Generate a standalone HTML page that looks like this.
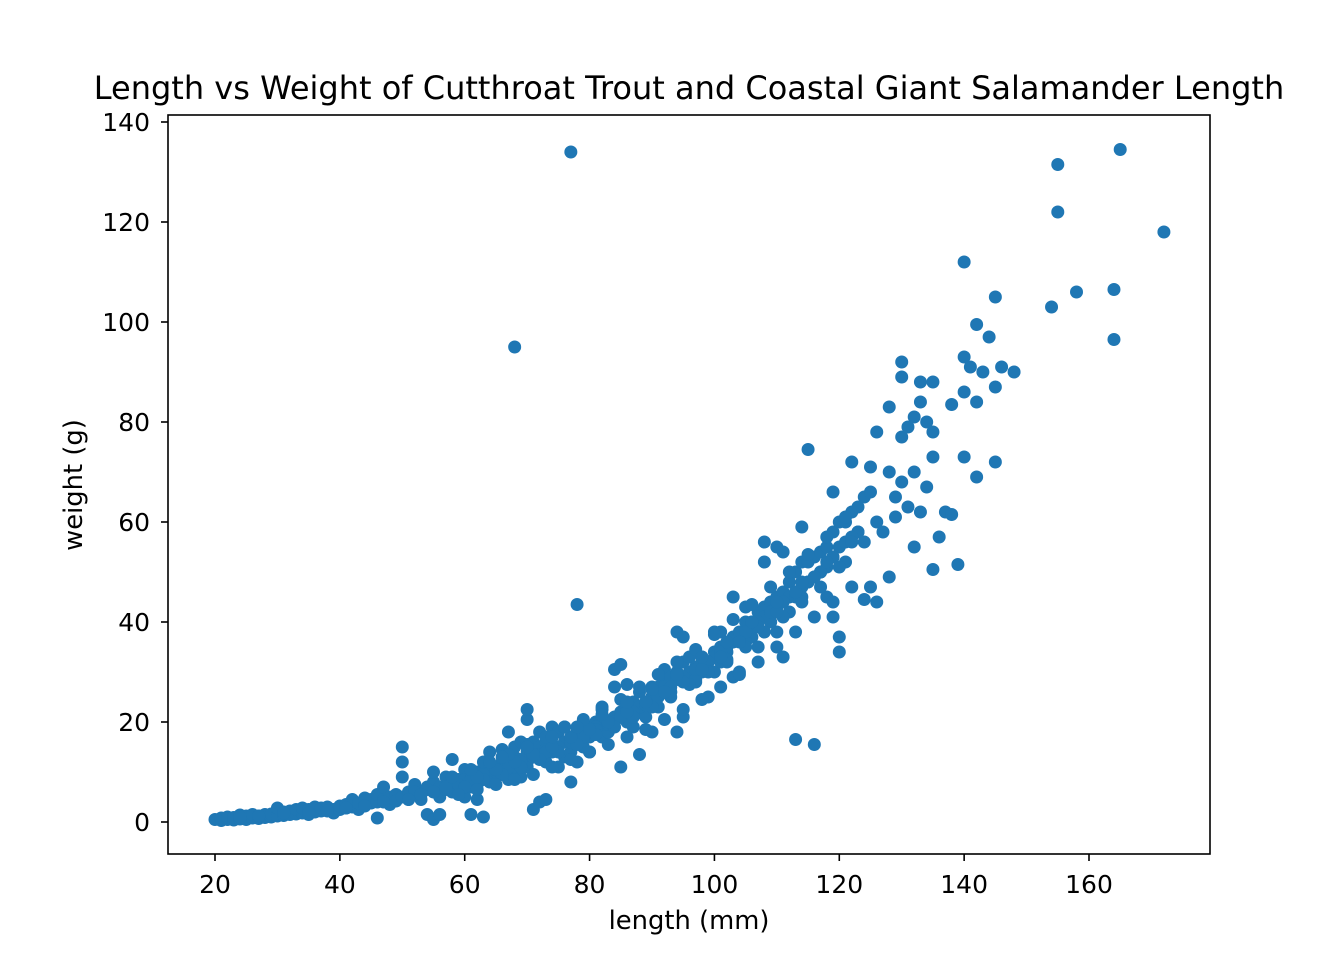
<!DOCTYPE html>
<html><head><meta charset="utf-8"><style>
html,body{margin:0;padding:0;background:#fff;}
svg text{font-family:"DejaVu Sans","Liberation Sans",sans-serif;fill:#000;}
</style></head><body>
<svg id="chart" width="1344" height="960" viewBox="0 0 1344 960" xmlns="http://www.w3.org/2000/svg">
<rect width="1344" height="960" fill="#fff"/>
<text x="689" y="99" style="font-size:32px" text-anchor="middle">Length vs Weight of Cutthroat Trout and Coastal Giant Salamander Length</text>
<g id="points"></g>
<rect x="168" y="115" width="1042" height="739" fill="none" stroke="#000" stroke-width="1.6"/>
<g id="xaxis"></g>
<g id="yaxis"></g>
<text x="689" y="929" style="font-size:25.8px" text-anchor="middle">length (mm)</text>
<text x="0" y="0" style="font-size:25.8px" text-anchor="middle" transform="translate(82,485) rotate(-90)">weight (g)</text>
</svg>
<script>
const xTicks=[20,40,60,80,100,120,140,160];
const yTicks=[0,20,40,60,80,100,120,140];
const lengths=[20,21,21,22,22,23,23,24,24,25,25,26,26,27,27,28,28,29,29,30,30,31,31,32,32,33,33,34,34,35,35,36,36,37,37,38,38,39,39,40,40,41,41,42,42,43,43,44,44,45,45,46,46,46,47,47,48,48,49,49,50,50,50,50,51,51,52,52,53,53,54,54,55,55,55,56,56,56,57,57,58,58,58,59,59,60,60,60,61,61,61,62,62,62,63,63,63,64,64,64,65,65,66,66,66,67,67,67,68,68,68,69,69,69,70,70,70,70,71,71,71,72,72,72,73,73,73,74,74,74,75,75,75,76,76,76,77,77,77,78,78,78,79,79,79,80,80,80,81,81,82,82,82,83,83,84,84,84,85,85,85,86,86,86,87,87,88,88,88,89,89,90,90,90,91,91,92,92,93,93,94,94,94,95,95,95,96,96,97,97,98,98,99,99,100,100,100,101,101,102,102,103,103,103,104,104,105,105,106,106,107,107,108,108,108,109,109,110,110,110,111,111,111,112,112,113,113,114,114,114,115,115,115,116,116,117,117,118,118,119,119,119,120,120,120,120,121,121,122,122,123,123,124,124,125,125,125,126,126,126,127,128,128,128,129,129,130,130,130,130,131,131,132,132,132,133,133,133,134,134,135,135,135,135,136,137,138,138,139,140,140,140,140,141,142,142,142,143,144,145,145,145,146,148,154,155,155,158,164,164,165,172,77,68,78,
52,54,56,58,60,62,64,66,68,70,72,74,76,78,80,82,84,86,88,90,92,94,96,98,100,102,104,106,108,110,112,114,116,118,57,61,65,69,73,77,81,85,89,93,97,101,105,109,113,117,
51,53,55,57,59,61,63,65,67,69,71,73,75,77,79,81,83,85,87,89,91,93,95,97,99,101,103,105,107,109,111,113,115,117,119,121,123,
60,63,66,69,72,75,78,81,84,87,90,93,96,99,102,105,108,111,114,117,120,124,
62,65,68,71,74,77,80,83,86,89,92,95,98,101,104,107,110,113,116,119,122,
35,38,41,44,47,31,27,24,
58,61,64,67,70,73,76,79,82,85,88,91,94,97,100,103,106,109,112,115,118,121,
59,62,65,68,71,74,77,80,83,86,89,92,95,98,101,104,107,110,113,116,119,122,
66,70,74,78,82,86,90,94,98,102,106,110,114,118,122];
const weights=[0.5,0.3,0.8,0.5,1,0.4,0.9,0.6,1.4,0.5,1.2,0.8,1.5,0.7,1.2,0.9,1.5,1,1.6,1.2,2.8,1.3,2,1.5,2.2,1.6,2.5,1.8,2.8,1.5,2.5,2,3,2.2,2.8,2.4,3,2.5,1.8,2.5,3.2,2.8,3.5,3,4.5,2.5,3.8,3.5,4.8,3.8,4.5,0.8,4,5.5,4.5,7,5,3.5,5.5,4.2,5,15,12,9,6,4.5,6.5,7.5,4.5,6,7,1.5,0.5,8,10,7,1.5,5,7.5,9,8,12.5,6,8.5,6.5,8,10.5,5,9,1.5,7,10,4.5,7.5,10,1,12,11,8,14,11,9,12,9.5,14.5,12,18,8.5,13,10,15,12,9,16,14,20.5,22.5,11,13,2.5,16,15,4,18,16,4.5,12,17,14,19,15,18,11,16,13,19,17,8,14,18,16,12,18,15,20,19,17,14,20,18,21,17,23,20,18,21,27,30.5,22,11,31.5,23,20,27.5,24,19,22,13.5,26,24,21,25,18,27,27,23,28,30.5,29,26,30,38,18,32,21,37,30,33,31,28,33,30,32,25,34,38,30,35,38,34,32,37,45,29,38,30,40,43,40,37,42,35,43,56,52,44,40,45,55,38,46,33,54,48,42,50,16.5,52,59,45,52,74.5,48,53,15.5,54,50,55,45,58,66,41,60,37,34,55,60,52,62,72,63,58,65,44.5,66,47,71,60,44,78,58,70,83,49,65,61,68,92,89,77,63,79,70,55,81,62,84,88,80,67,78,88,73,50.5,57,62,83.5,61.5,51.5,93,86,73,112,91,99.5,69,84,90,97,105,72,87,91,90,103,131.5,122,106,106.5,96.5,134.5,118,134,95,43.5,
6,6.5,7,8,8.5,9,10,11,12,12,13.5,15,16,17,18,19.5,20,22,23,25,27,28.5,30,32,33,35,37,39,41,43,45,47,49,51,6.5,8.5,10.5,12.5,14.5,16.5,19,21,23.5,26,28.5,32,36,40,45,50,
4.5,5.5,6,7,7.5,8.5,9.5,10,11,12,13,14,15,16,17,18.5,19.5,21,22,23.5,25,27,29,30.5,32,34,36,38,40,42,44,46,48,50,53,56,58,
7,8.5,9.5,11,12.5,14,15.5,17.5,19,21,23,25,27.5,30,32.5,35,38,41,44,47,51,56,
9,10.5,12,13.5,15,17,18.5,20,22,24,26,28,30.5,33,36,39,42,46,49,53,57,
1.8,2.2,2.8,3.2,4,1.8,1.2,1,
9,10.5,12,13.5,15.5,17,19,20.5,22.5,24.5,27,29.5,32,34.5,37.5,40.5,43.5,47,50,53.5,57,61,
5.5,6.5,7.5,8.5,9.5,11,12.5,14,15.5,17,18.5,20.5,22.5,24.5,27,29.5,32,35,38,41,44,47,
13,15,17,19,21.5,24,26.5,29.5,33,36,40,44,48,52,56];
const X0=20,X1=160,PX0=215,PX1=1089,Y0=0,Y1=140,PY0=822,PY1=122;
const sx=v=>PX0+(v-X0)*(PX1-PX0)/(X1-X0);
const sy=v=>PY0+(v-Y0)*(PY1-PY0)/(Y1-Y0);
const NS='http://www.w3.org/2000/svg';
const pg=document.getElementById('points');
for(let i=0;i<lengths.length;i++){
  const c=document.createElementNS(NS,'circle');
  c.setAttribute('cx',sx(lengths[i]));c.setAttribute('cy',sy(weights[i]));
  c.setAttribute('r',6.5);c.setAttribute('fill','#1f77b4');
  
  
  pg.appendChild(c);
}
const xa=document.getElementById('xaxis');
xTicks.forEach(t=>{
  const x=sx(t);
  const l=document.createElementNS(NS,'line');
  l.setAttribute('x1',x);l.setAttribute('x2',x);l.setAttribute('y1',854);l.setAttribute('y2',861);
  l.setAttribute('stroke','#000');l.setAttribute('stroke-width','1.6');
  
  
  xa.appendChild(l);
  const tx=document.createElementNS(NS,'text');
  tx.setAttribute('x',x);tx.setAttribute('y',893);tx.setAttribute('style','font-size:25px');tx.setAttribute('text-anchor','middle');
  tx.textContent=t;
  
  
  xa.appendChild(tx);
});
const ya=document.getElementById('yaxis');
yTicks.forEach(t=>{
  const y=sy(t);
  const l=document.createElementNS(NS,'line');
  l.setAttribute('x1',161);l.setAttribute('x2',168);l.setAttribute('y1',y);l.setAttribute('y2',y);
  l.setAttribute('stroke','#000');l.setAttribute('stroke-width','1.6');
  
  
  ya.appendChild(l);
  const tx=document.createElementNS(NS,'text');
  tx.setAttribute('x',150);tx.setAttribute('y',y+9);tx.setAttribute('style','font-size:25px');tx.setAttribute('text-anchor','end');
  tx.textContent=t;
  
  
  ya.appendChild(tx);
});
</script>
</body></html>
